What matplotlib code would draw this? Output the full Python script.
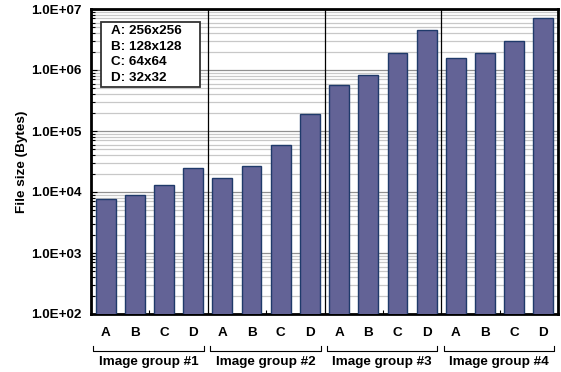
import numpy as np
import matplotlib.pyplot as plt
from matplotlib.ticker import FixedLocator, LogLocator, NullFormatter
from matplotlib.patches import Rectangle
import matplotlib.transforms as mtransforms

plt.rcParams['font.family'] = ['Liberation Sans', 'DejaVu Sans']
plt.rcParams['font.weight'] = 'bold'

# data
groups = ['Image group #1', 'Image group #2', 'Image group #3', 'Image group #4']
sizes = ['A', 'B', 'C', 'D']
legend_lines = ['A: 256x256', 'B: 128x128', 'C: 64x64', 'D: 32x32']
file_sizes = [
    [7.8e3, 8.8e3, 1.3e4, 2.5e4],
    [1.7e4, 2.7e4, 6.0e4, 1.87e5],
    [5.6e5, 8.4e5, 1.87e6, 4.6e6],
    [1.6e6, 1.9e6, 2.95e6, 7.1e6],
]

vals = np.array(file_sizes).ravel()
x = np.arange(len(vals))
fs = 9.7

fig = plt.figure(figsize=(5.61, 3.72), dpi=100)
ax = fig.add_axes([91 / 561, 58 / 372, 467 / 561, 305 / 372])

ax.set_yscale('log')
ax.set_ylim(1e2, 1e7)
ax.set_xlim(-0.5, len(vals) - 0.5)

# grid
ax.yaxis.set_minor_locator(LogLocator(base=10, subs=np.arange(2, 10)))
ax.yaxis.set_minor_formatter(NullFormatter())
ax.grid(which='minor', axis='y', color='#c8c8c8', linewidth=0.9)
ax.grid(which='major', axis='y', color='#909090', linewidth=0.9)
ax.set_axisbelow(True)

ax.bar(x, vals, width=0.68, color='#636396', edgecolor='#1f3a6a', linewidth=1.0, zorder=3)

# group separators
for g in range(1, len(groups)):
    ax.axvline(g * 4 - 0.5, color='black', linewidth=0.9, zorder=4)

ax.set_yticks([1e2, 1e3, 1e4, 1e5, 1e6, 1e7])
ax.set_yticklabels(['1.0E+02', '1.0E+03', '1.0E+04', '1.0E+05', '1.0E+06', '1.0E+07'],
                   fontsize=fs, fontweight='bold')
ax.tick_params(axis='y', which='both', direction='in', length=4, width=0.8, pad=7)
ax.tick_params(axis='y', which='minor', length=3)

# tiny ticks at group centres, no labels
ax.xaxis.set_major_locator(FixedLocator([g * 4 + 1.5 for g in range(len(groups))]))
ax.set_xticklabels([])
ax.tick_params(axis='x', direction='in', length=3, width=0.8)

for s in ax.spines.values():
    s.set_linewidth(2)

ax.set_ylabel('File size (Bytes)', fontsize=fs, fontweight='bold', labelpad=2)

# category labels and group brackets under the axes
trans = mtransforms.blended_transform_factory(ax.transData, ax.transAxes)
for i in x:
    ax.text(i, -0.062, sizes[i % 4], transform=trans, ha='center', va='center',
            fontsize=fs, fontweight='bold')
for g, name in enumerate(groups):
    x0, x1 = g * 4 - 0.42, g * 4 + 3.37
    ax.plot([x0, x0, x1, x1], [-0.105, -0.121, -0.121, -0.105], transform=trans,
            color='black', linewidth=0.8, clip_on=False)
    ax.text((x0 + x1) / 2, -0.156, name, transform=trans, ha='center', va='center',
            fontsize=fs, fontweight='bold')

# legend box
ax.add_patch(Rectangle((0.0214, 0.744), 0.212, 0.213, transform=ax.transAxes,
                       facecolor='white', edgecolor='#333333', linewidth=1.3, zorder=6))
for k, line in enumerate(legend_lines):
    ax.text(0.042, 0.928 - k * 0.051, line, transform=ax.transAxes, ha='left', va='center',
            fontsize=fs, fontweight='bold', zorder=7)

fig.savefig('out.png', dpi=100)
